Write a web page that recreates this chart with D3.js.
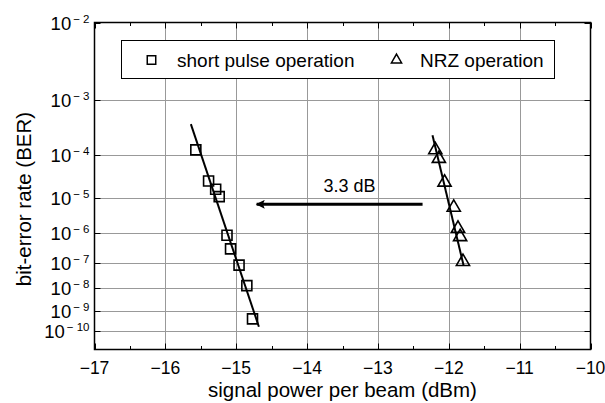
<!DOCTYPE html>
<html>
<head>
<meta charset="utf-8">
<script src="https://cdn.jsdelivr.net/npm/d3@7"></script>
<style>
  body { margin: 0; background: #fff; }
  svg { display: block; font-family: Arial, 'Liberation Sans', sans-serif; }
</style>
</head>
<body>
<svg id="chart" width="605" height="403"></svg>
<script>
// data
const shortPower = [-15.57, -15.39, -15.29, -15.24, -15.13, -15.08, -14.96, -14.85, -14.77]
const shortBER = [1.3e-4, 2.7e-5, 1.7e-5, 1.1e-5, 8.6e-7, 3.1e-7, 8.2e-8, 1.3e-8, 4.2e-10]
const nrzPower = [-12.19, -12.14, -12.06, -11.93, -11.87, -11.84, -11.80]
const nrzBER = [1.3e-4, 8.6e-5, 2.5e-5, 5.7e-6, 1.4e-6, 7.7e-7, 1.1e-7]
// linear fits (end points)
const shortFitPower = [-15.64, -14.68]
const shortFitBER = [4.0e-4, 1.7e-10]
const nrzFitPower = [-12.23, -11.79]
const nrzFitBER = [2.5e-4, 7.8e-8]
// penalty arrow
const arrowPower = [-12.37, -14.74]
const arrowBER = 6.9e-6
const arrowLabel = '3.3 dB'
// axes
const xTicks = [-17, -16, -15, -14, -13, -12, -11, -10]
const yTickExp = [2, 3, 4, 5, 6, 7, 8, 9, 10]
const legendLabels = ['short pulse operation', 'NRZ operation']

const svg = d3.select('#chart')
const pLeft = 94.5
const pRight = 590.5
const pTop = 22.5
const pBottom = 349.5

// BER axis uses log(-log(BER))
const q = ber => Math.log10(-Math.log10(ber))
const x = d3.scaleLinear().domain([-17, -10]).range([pLeft, pRight])
const y = d3.scaleLinear().domain([q(1e-2), q(1e-11)]).range([pTop, pBottom])

//
const grid = svg.append('g')
grid.selectAll('line.v')
  .data(xTicks.slice(1, -1))
  .join('line')
  .attr('x1', d => Math.round(x(d)) + 0.5).attr('x2', d => Math.round(x(d)) + 0.5)
  .attr('y1', pTop).attr('y2', pBottom)
  .attr('stroke', '#999').attr('stroke-width', 1)
grid.selectAll('line.h')
  .data(yTickExp.slice(1))
  .join('line')
  .attr('x1', pLeft).attr('x2', pRight)
  .attr('y1', d => Math.round(y(q(Math.pow(10, -d)))) + 0.5)
  .attr('y2', d => Math.round(y(q(Math.pow(10, -d)))) + 0.5)
  .attr('stroke', '#999').attr('stroke-width', 1)

// ticks, inward on all sides
const minor = d3.range(-16.5, -10, 1)
const tk = svg.append('g').attr('stroke', '#000').attr('stroke-width', 1)
xTicks.forEach(v => {
  const px = Math.round(x(v)) + 0.5
  tk.append('line').attr('x1', px).attr('x2', px).attr('y1', pBottom).attr('y2', pBottom - 6)
  tk.append('line').attr('x1', px).attr('x2', px).attr('y1', pTop).attr('y2', pTop + 6)
})
minor.forEach(v => {
  const px = Math.round(x(v)) + 0.5
  tk.append('line').attr('x1', px).attr('x2', px).attr('y1', pBottom).attr('y2', pBottom - 3.5)
  tk.append('line').attr('x1', px).attr('x2', px).attr('y1', pTop).attr('y2', pTop + 3.5)
})
yTickExp.forEach(e => {
  const py = Math.round(y(q(Math.pow(10, -e)))) + 0.5
  tk.append('line').attr('x1', pLeft).attr('x2', pLeft + 6).attr('y1', py).attr('y2', py)
  tk.append('line').attr('x1', pRight).attr('x2', pRight - 6).attr('y1', py).attr('y2', py)
})

// frame
svg.append('rect')
  .attr('x', pLeft).attr('y', pTop)
  .attr('width', pRight - pLeft).attr('height', pBottom - pTop)
  .attr('fill', 'none').attr('stroke', '#000').attr('stroke-width', 1.5)

// tick labels
svg.append('g').selectAll('text')
  .data(xTicks)
  .join('text')
  .attr('x', d => x(d))
  .attr('y', pBottom + 24)
  .attr('text-anchor', 'middle')
  .attr('font-size', 17.5)
  .text(d => '\u2212' + Math.abs(d))

const yl = svg.append('g').selectAll('text')
  .data(yTickExp)
  .join('text')
  .attr('x', pLeft - 5)
  .attr('y', d => y(q(Math.pow(10, -d))) + 7)
  .attr('text-anchor', 'end')
  .attr('font-size', 18.5)
yl.append('tspan').text('10')
yl.append('tspan')
  .attr('font-size', 11.5)
  .attr('dy', -7)
  .attr('dx', 2)
  .text(d => '\u2212 ' + d)

// axis titles
svg.append('text')
  .attr('x', (pLeft + pRight) / 2)
  .attr('y', 397)
  .attr('text-anchor', 'middle')
  .attr('font-size', 20.5)
  .text('signal power per beam (dBm)')
svg.append('text')
  .attr('transform', `translate(31,${(pTop + pBottom) / 2 + 13}) rotate(-90)`)
  .attr('text-anchor', 'middle')
  .attr('font-size', 20.5)
  .text('bit-error rate (BER)')

// fit lines
const line = d3.line().x(d => x(d[0])).y(d => y(q(d[1])))
svg.append('path')
  .attr('d', line(d3.zip(shortFitPower, shortFitBER)))
  .attr('fill', 'none').attr('stroke', '#000').attr('stroke-width', 2)
svg.append('path')
  .attr('d', line(d3.zip(nrzFitPower, nrzFitBER)))
  .attr('fill', 'none').attr('stroke', '#000').attr('stroke-width', 2)

// markers
const sq = d3.symbol().type(d3.symbolSquare).size(100)
const tri = d3.symbol().type(d3.symbolTriangle).size(75)
svg.append('g').selectAll('path')
  .data(d3.zip(shortPower, shortBER))
  .join('path')
  .attr('transform', d => `translate(${x(d[0])},${y(q(d[1]))})`)
  .attr('d', sq)
  .attr('fill', 'none').attr('stroke', '#000').attr('stroke-width', 1.6)
svg.append('g').selectAll('path')
  .data(d3.zip(nrzPower, nrzBER))
  .join('path')
  .attr('transform', d => `translate(${x(d[0])},${y(q(d[1]))})`)
  .attr('d', tri)
  .attr('fill', 'none').attr('stroke', '#000').attr('stroke-width', 1.6)

// arrow
svg.append('defs').append('marker')
  .attr('id', 'head')
  .attr('viewBox', '0 0 10 10')
  .attr('refX', 9).attr('refY', 5)
  .attr('markerWidth', 6).attr('markerHeight', 3)
  .attr('markerUnits', 'strokeWidth')
  .attr('orient', 'auto')
  .append('path')
  .attr('d', 'M0,0 L10,5 L0,10 L2,5 Z')
  .attr('fill', '#000')
svg.append('line')
  .attr('x1', x(arrowPower[0])).attr('x2', x(arrowPower[1]) + 2)
  .attr('y1', y(q(arrowBER))).attr('y2', y(q(arrowBER)))
  .attr('stroke', '#000').attr('stroke-width', 3)
  .attr('marker-end', 'url(#head)')
svg.append('text')
  .attr('x', x(d3.mean(arrowPower)) + 11)
  .attr('y', y(q(arrowBER)) - 12.5)
  .attr('text-anchor', 'middle')
  .attr('font-size', 18)
  .text(arrowLabel)

// legend
const lg = svg.append('g')
lg.append('rect')
  .attr('x', 121.5).attr('y', 40.5)
  .attr('width', 433).attr('height', 38)
  .attr('fill', '#fff').attr('stroke', '#000').attr('stroke-width', 1)
lg.append('path')
  .attr('transform', 'translate(151.5,60)')
  .attr('d', d3.symbol().type(d3.symbolSquare).size(72))
  .attr('fill', 'none').attr('stroke', '#000').attr('stroke-width', 1.5)
lg.append('path')
  .attr('transform', 'translate(396.5,60)')
  .attr('d', d3.symbol().type(d3.symbolTriangle).size(45))
  .attr('fill', 'none').attr('stroke', '#000').attr('stroke-width', 1.5)
lg.append('text')
  .attr('x', 177).attr('y', 66.5)
  .attr('font-size', 19)
  .text(legendLabels[0])
lg.append('text')
  .attr('x', 420).attr('y', 66.5)
  .attr('font-size', 19)
  .text(legendLabels[1])
</script>
</body>
</html>
